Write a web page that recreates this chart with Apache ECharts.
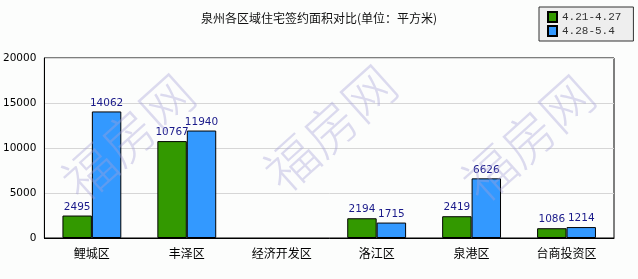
<!DOCTYPE html>
<html><head><meta charset="utf-8">
<script src="https://cdn.jsdelivr.net/npm/echarts@6/dist/echarts.min.js"></script>
<style>html,body{margin:0;padding:0;background:#fcfdfc}#c{width:638px;height:279px}</style>
</head><body><div id="c"></div>
<script>
const categories = ['鲤城区','丰泽区','经济开发区','洛江区','泉港区','台商投资区'];
const seriesNames = ['4.21-4.27','4.28-5.4'];
const week1 = [2495, 10767, null, 2194, 2419, 1086];
const week2 = [14062, 11940, null, 1715, 6626, 1214];
const yTicks = {min: 0, max: 20000, interval: 5000};
const titleText = '泉州各区域住宅签约面积对比(单位：平方米)';
const watermark = '福房网';

const chart = echarts.init(document.getElementById('c'));
const wm = (x, y) => ({
  type: 'text', x: x, y: y, rotation: Math.PI * 42 / 180, z: 100,
  style: {text: watermark, fontSize: 52, fontFamily: 'Noto Sans CJK SC', fontWeight: 300,
    fill: 'rgba(165,160,215,0.38)', align: 'center', verticalAlign: 'middle'}
});
const labelStyle = {show: true, position: 'top', distance: 3, color: '#1a1a8a',
  fontFamily: 'DejaVu Sans', fontSize: 10.5};
chart.setOption({
  backgroundColor: '#fcfdfc',
  animation: false,
  title: {text: titleText, left: 'center', top: 7,
    textStyle: {fontFamily: 'Noto Sans CJK SC', fontSize: 12, fontWeight: 'normal', color: '#111'}},
  legend: {orient: 'vertical', left: 539, top: 7, width: 97,
    backgroundColor: '#eeeeee', borderColor: '#333', borderWidth: 1,
    padding: [4, 12, 4, 8], itemWidth: 9, itemHeight: 10, itemGap: 2,
    icon: 'rect',
    textStyle: {fontFamily: 'Liberation Mono', fontSize: 11, color: '#333'},
    data: seriesNames},
  grid: {left: 44, right: 24, top: 58, bottom: 41, show: true, borderColor: '#000', borderWidth: 1},
  xAxis: {type: 'category', data: categories,
    axisLine: {lineStyle: {color: '#000'}},
    axisTick: {inside: true, length: 6, lineStyle: {color: '#000'}},
    axisLabel: {fontFamily: 'Noto Sans CJK SC', fontSize: 12, color: '#000', margin: 9}},
  yAxis: {type: 'value', min: yTicks.min, max: yTicks.max, interval: yTicks.interval,
    axisLine: {show: true, lineStyle: {color: '#000'}},
    axisTick: {show: false},
    splitLine: {lineStyle: {color: '#d6d6d6'}},
    axisLabel: {fontFamily: 'DejaVu Sans', fontSize: 10.5, color: '#000', margin: 8,
      formatter: v => String(v)}},
  series: [
    {name: seriesNames[0], type: 'bar', data: week1, barGap: 0, barCategoryGap: '38%',
      itemStyle: {color: '#339900', borderColor: '#000', borderWidth: 1}, label: labelStyle},
    {name: seriesNames[1], type: 'bar', data: week2, barGap: 0, barCategoryGap: '38%',
      itemStyle: {color: '#3399ff', borderColor: '#000', borderWidth: 1}, label: labelStyle}
  ],
  graphic: [wm(128, 137), wm(330, 128), wm(528, 138)]
});
</script></body></html>
